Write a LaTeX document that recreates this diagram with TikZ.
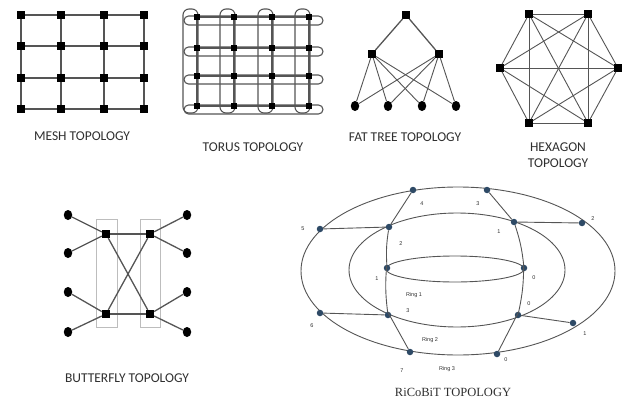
\documentclass[tikz,border=0pt]{standalone}
\usepackage{fontspec}
\usetikzlibrary{shapes.geometric}
\setmainfont{Carlito}
\newfontfamily\serifcap{Liberation Serif}
\newfontfamily\smallsans{Liberation Sans}
\definecolor{edge}{HTML}{555555}
\definecolor{box}{HTML}{BDBDBD}
\definecolor{dotc}{HTML}{2E4A66}
\definecolor{txt}{HTML}{2F2F2F}
\begin{document}
\begin{tikzpicture}[x=1pt,y=-1pt,
  sq/.style={rectangle,fill=black,minimum size=7.5pt,inner sep=0pt},
  rd/.style={ellipse,fill=black,minimum width=8.5pt,minimum height=10pt,inner sep=0pt},
  bd/.style={circle,fill=dotc,minimum size=6.5pt,inner sep=0pt},
  ln/.style={draw=edge,line width=1.3pt},
  thinln/.style={draw=edge,line width=0.9pt},
  captxt/.style={font=\fontsize{13.5}{16}\selectfont,text=txt},
  tinytxt/.style={font=\smallsans\fontsize{5.5}{6}\selectfont,text=txt,inner sep=0pt}]
\useasboundingbox (0,0) rectangle (624,412);

% ---------------- MESH ----------------
\foreach \i/\x in {1/21,2/61,3/104,4/144}
  \foreach \j/\y in {1/15,2/46,3/78,4/109}
    \node[sq] (m\i\j) at (\x,\y) {};
\foreach \j in {1,2,3,4}
  \draw[ln] (m1\j) -- (m2\j) -- (m3\j) -- (m4\j);
\foreach \i in {1,2,3,4}
  \draw[ln] (m\i1) -- (m\i2) -- (m\i3) -- (m\i4);
\node[captxt] (meshl) at (82,136) {MESH TOPOLOGY};

% ---------------- TORUS ----------------
\foreach \j/\y in {1/17,2/48,3/76,4/106}
  \draw[thinln,line width=1.1pt,rounded corners=4.5pt] (184,\y-1) rectangle (323,\y+8);
\foreach \i/\x in {1/197,2/234,3/272,4/309}
  \draw[thinln,line width=1.1pt,rounded corners=6pt] (\x-14,9) rectangle (\x+1,113);
\foreach \i/\x in {1/197,2/234,3/272,4/309}
  \foreach \j/\y in {1/17,2/48,3/76,4/106}
    \node[sq,minimum size=6.5pt] (t\i\j) at (\x,\y) {};
\foreach \j in {1,2,3,4}
  \draw[thinln,line width=1.1pt] (t1\j) -- (t2\j) -- (t3\j) -- (t4\j);
\foreach \i in {1,2,3,4}
  \draw[thinln,line width=1.1pt] (t\i1) -- (t\i2) -- (t\i3) -- (t\i4);
\node[captxt] (torusl) at (253,147) {TORUS TOPOLOGY};

% ---------------- FAT TREE ----------------
\node[sq] (ft) at (406,15) {};
\node[sq] (fa) at (372,54) {};
\node[sq] (fb) at (439,54) {};
\foreach \k/\x in {1/355,2/388,3/422,4/456}
  \node[rd] (fl\k) at (\x,106) {};
\draw[ln] (fa) -- (ft) -- (fb);
\foreach \k in {1,2,3,4}{
  \draw[thinln] (fa) -- (fl\k);
  \draw[thinln] (fb) -- (fl\k);}
\node[captxt] (fatl) at (405,137) {FAT TREE TOPOLOGY};

% ---------------- HEXAGON ----------------
\node[sq] (h1) at (529,14) {};
\node[sq] (h2) at (588,14) {};
\node[sq] (h3) at (618,68) {};
\node[sq] (h4) at (588,123) {};
\node[sq] (h5) at (529,123) {};
\node[sq] (h6) at (500,68) {};
\foreach \a/\b in {1/2,1/3,1/4,1/5,1/6,2/3,2/4,2/5,2/6,3/4,3/5,3/6,4/5,4/6,5/6}
  \draw[thinln] (h\a) -- (h\b);
\node[captxt,align=center] (hexl) at (558,155) {HEXAGON\\TOPOLOGY};

% ---------------- BUTTERFLY ----------------
\draw[draw=box,line width=0.8pt] (96,219) rectangle (117,327);
\draw[draw=box,line width=0.8pt] (140,219) rectangle (160,327);
\node[sq,minimum size=8pt] (bTL) at (106,234) {};
\node[sq,minimum size=8pt] (bTR) at (150,234) {};
\node[sq,minimum size=8pt] (bBL) at (106,314) {};
\node[sq,minimum size=8pt] (bBR) at (150,314) {};
\foreach \k/\y in {1/215,2/253,3/292,4/332}{
  \node[rd] (bl\k) at (68,\y) {};
  \node[rd] (br\k) at (187,\y) {};}
\draw[ln] (bl1) -- (bTL) -- (bl2);
\draw[ln] (bl3) -- (bBL) -- (bl4);
\draw[ln] (br1) -- (bTR) -- (br2);
\draw[ln] (br3) -- (bBR) -- (br4);
\draw[ln] (bTL) -- (bTR);
\draw[ln] (bBL) -- (bBR);
\draw[ln] (bTL) -- (bBR);
\draw[ln] (bTR) -- (bBL);
\node[captxt] (bfl) at (127,378) {BUTTERFLY TOPOLOGY};

% ---------------- RiCoBiT ----------------
\draw[thinln] (458,271) ellipse [x radius=157, y radius=84];
\draw[thinln] (457,270) ellipse [x radius=108, y radius=57];
\draw[thinln] (455,269) ellipse [x radius=69, y radius=13];
% outer ring nodes
\node[bd] (o4) at (413,190) {};
\node[bd] (o3) at (487,190) {};
\node[bd] (o2) at (582,223) {};
\node[bd] (o5) at (320,229) {};
\node[bd] (o6) at (320,313) {};
\node[bd] (o1) at (573,323) {};
\node[bd] (o7) at (410,352) {};
\node[bd] (o0) at (497,354) {};
% middle ring nodes
\node[bd] (r2) at (389,227) {};
\node[bd] (r1) at (514,222) {};
\node[bd] (r3) at (388,315) {};
\node[bd] (r0) at (518,315) {};
% inner ring nodes
\node[bd] (i1) at (387,268) {};
\node[bd] (i0) at (524,268) {};
% connectors
\draw[thinln] (o4) -- (r2) to[bend right=6] (i1) to[bend right=6] (r3) -- (o7);
\draw[thinln] (o3) -- (r1) to[bend left=6] (i0) to[bend left=6] (r0) -- (o0);
\draw[thinln] (o5) -- (r2);
\draw[thinln] (r1) -- (o2);
\draw[thinln] (o6) -- (r3);
\draw[thinln] (r0) -- (o1);
% labels
\node[tinytxt] (lo4) at (422,204) {4};
\node[tinytxt] (lo3) at (478,204) {3};
\node[tinytxt] (lo2) at (593,219) {2};
\node[tinytxt] (lo5) at (303,229) {5};
\node[tinytxt] (lr1) at (499,232) {1};
\node[tinytxt] (lr2) at (401,244) {2};
\node[tinytxt] (li1) at (377,279) {1};
\node[tinytxt] (li0) at (534,278) {0};
\node[tinytxt] (lring1) at (414,295) {Ring 1};
\node[tinytxt] (lr3) at (408,311) {3};
\node[tinytxt] (lr0) at (529,304) {0};
\node[tinytxt] (lo6) at (312,326) {6};
\node[tinytxt] (lo1) at (585,334) {1};
\node[tinytxt] (lring2) at (430,340) {Ring 2};
\node[tinytxt] (lo0) at (506,360) {0};
\node[tinytxt] (lo7) at (402,371) {7};
\node[tinytxt] (lring3) at (447,369) {Ring 3};
\node[font=\serifcap\fontsize{12.5}{14}\selectfont,text=txt] (ricl) at (453,392) {RiCoBiT TOPOLOGY};
\end{tikzpicture}
\end{document}
